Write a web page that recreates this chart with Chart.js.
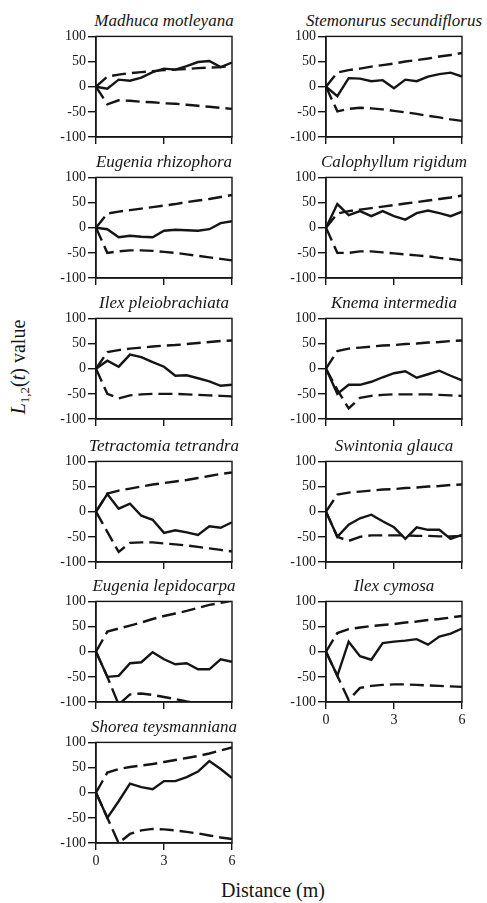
<!DOCTYPE html>
<html>
<head>
<meta charset="utf-8">
<script src="https://cdn.jsdelivr.net/npm/chart.js@4.4.1/dist/chart.umd.min.js"></script>
<style>
  body { margin: 0; background: #fff; }
  #page { position: relative; width: 487px; height: 903px; overflow: hidden;
          font-family: "Liberation Serif", "Times New Roman", serif; color: #151515; }
  .panel { position: absolute; }
  .title { position: absolute; width: 240px; text-align: center; font-style: italic;
           font-size: 17px; line-height: 20px; white-space: nowrap; }
  #ylabel { position: absolute; left: -52px; top: 355px; width: 140px; height: 24px;
            line-height: 24px; text-align: center; font-size: 20px; white-space: nowrap;
            transform: rotate(-90deg); }
  #ylabel sub { font-size: 13px; vertical-align: -4px; line-height: 0; }
  #xlabel { position: absolute; left: 193px; top: 878px; width: 160px; text-align: center;
            font-size: 20px; line-height: 24px; white-space: nowrap; }
</style>
</head>
<body>
<div id="page">
  <div id="ylabel"><i>L</i><sub>1,2</sub>(<i>t</i>) value</div>
  <div id="xlabel">Distance (m)</div>
</div>
<script>
// distances (m) at which L1,2(t) was evaluated
const distance = [0, 0.5, 1, 1.5, 2, 2.5, 3, 3.5, 4, 4.5, 5, 5.5, 6];
const xTicks = [0, 3, 6];
const yTicks = [-100, -50, 0, 50, 100];

// observed value, upper and lower envelope for each species
const madhucaObs = [0, -4, 14, 12, 18, 29, 36, 34, 41, 49, 51, 39, 48];
const madhucaUp  = [0, 20, 24, 27, 29, 31, 33, 34, 35, 37, 38, 39, 41];
const madhucaLo  = [0, -35, -27, -28, -30, -31, -33, -34, -36, -38, -40, -42, -44];

const stemonurusObs = [0, -19, 17, 16, 11, 13, -3, 14, 11, 20, 25, 28, 20];
const stemonurusUp  = [0, 28, 33, 36, 40, 43, 46, 50, 53, 56, 60, 63, 67];
const stemonurusLo  = [0, -49, -44, -42, -43, -45, -48, -51, -54, -58, -61, -65, -68];

const rhizophoraObs = [0, -3, -19, -16, -18, -19, -6, -4, -5, -6, -3, 9, 13];
const rhizophoraUp  = [0, 28, 32, 35, 38, 41, 44, 47, 51, 54, 57, 61, 65];
const rhizophoraLo  = [0, -50, -47, -45, -45, -46, -48, -50, -53, -56, -59, -62, -65];

const calophyllumObs = [0, 47, 25, 33, 23, 33, 23, 16, 29, 34, 29, 23, 32];
const calophyllumUp  = [0, 28, 33, 36, 39, 42, 45, 48, 51, 54, 57, 60, 64];
const calophyllumLo  = [0, -50, -50, -47, -47, -49, -51, -53, -55, -57, -60, -62, -65];

const pleiobrachiataObs = [0, 16, 4, 28, 23, 13, 4, -14, -13, -19, -25, -34, -32];
const pleiobrachiataUp  = [0, 33, 37, 40, 42, 44, 46, 47, 49, 51, 53, 55, 56];
const pleiobrachiataLo  = [0, -50, -59, -53, -51, -50, -50, -50, -51, -52, -53, -54, -55];

const knemaObs = [0, -50, -32, -32, -26, -17, -9, -5, -18, -11, -4, -14, -23];
const knemaUp  = [0, 35, 40, 42, 44, 46, 47, 49, 50, 52, 53, 55, 56];
const knemaLo  = [0, -42, -79, -58, -54, -52, -51, -51, -51, -51, -52, -53, -54];

const tetractomiaObs = [0, 35, 6, 16, -8, -16, -42, -37, -41, -46, -29, -32, -21];
const tetractomiaUp  = [0, 36, 42, 46, 50, 54, 57, 60, 63, 67, 71, 75, 78];
const tetractomiaLo  = [0, -40, -80, -62, -61, -61, -63, -65, -67, -70, -73, -76, -79];

const swintoniaObs = [0, -50, -26, -13, -6, -19, -31, -54, -31, -36, -36, -54, -46];
const swintoniaUp  = [0, 34, 38, 40, 42, 44, 45, 47, 48, 50, 51, 53, 54];
const swintoniaLo  = [0, -50, -58, -50, -47, -47, -47, -47, -48, -48, -49, -49, -48];

const lepidocarpaObs = [0, -50, -48, -23, -21, -1, -15, -25, -23, -35, -35, -15, -20];
const lepidocarpaUp  = [0, 40, 46, 52, 58, 65, 71, 76, 81, 87, 93, 97, 101];
const lepidocarpaLo  = [0, -50, -105, -85, -83, -86, -90, -94, -99, -103, -107, -111, -115];

const cymosaObs = [0, -48, 20, -9, -16, 17, 20, 22, 25, 14, 30, 36, 46];
const cymosaUp  = [0, 37, 45, 48, 51, 53, 55, 58, 60, 63, 65, 68, 71];
const cymosaLo  = [0, -48, -96, -72, -68, -66, -65, -65, -66, -67, -68, -69, -70];

const shoreaObs = [0, -50, -17, 18, 11, 7, 23, 23, 31, 42, 63, 47, 29];
const shoreaUp  = [0, 40, 47, 51, 54, 57, 61, 65, 69, 73, 78, 84, 90];
const shoreaLo  = [0, -50, -100, -82, -75, -72, -73, -75, -78, -81, -85, -89, -92];

const panels = [
  { name: "Madhuca motleyana",       obs: madhucaObs,        up: madhucaUp,        lo: madhucaLo,        col: 0, row: 0 },
  { name: "Stemonurus secundiflorus", obs: stemonurusObs,    up: stemonurusUp,     lo: stemonurusLo,     col: 1, row: 0 },
  { name: "Eugenia rhizophora",      obs: rhizophoraObs,     up: rhizophoraUp,     lo: rhizophoraLo,     col: 0, row: 1 },
  { name: "Calophyllum rigidum",     obs: calophyllumObs,    up: calophyllumUp,    lo: calophyllumLo,    col: 1, row: 1 },
  { name: "Ilex pleiobrachiata",     obs: pleiobrachiataObs, up: pleiobrachiataUp, lo: pleiobrachiataLo, col: 0, row: 2 },
  { name: "Knema intermedia",        obs: knemaObs,          up: knemaUp,          lo: knemaLo,          col: 1, row: 2 },
  { name: "Tetractomia tetrandra",   obs: tetractomiaObs,    up: tetractomiaUp,    lo: tetractomiaLo,    col: 0, row: 3 },
  { name: "Swintonia glauca",        obs: swintoniaObs,      up: swintoniaUp,      lo: swintoniaLo,      col: 1, row: 3 },
  { name: "Eugenia lepidocarpa",     obs: lepidocarpaObs,    up: lepidocarpaUp,    lo: lepidocarpaLo,    col: 0, row: 4 },
  { name: "Ilex cymosa",             obs: cymosaObs,         up: cymosaUp,         lo: cymosaLo,         col: 1, row: 4, xLabels: true },
  { name: "Shorea teysmanniana",     obs: shoreaObs,         up: shoreaUp,         lo: shoreaLo,         col: 0, row: 5, xLabels: true },
];

// layout of the grid of panels
const colLeft = [96, 326];
const rowTop = [36, 177, 318, 461, 601, 742];
const plotW = 136, plotH = 101;
const axisW = 60, padTop = 10, padRight = 10, axisH = 26;
const ink = "#151515";
const serif = "'Liberation Serif', 'Times New Roman', Times, serif";

// draw the closed box around each plot area
const frame = {
  id: "frame",
  afterDraw(chart) {
    const a = chart.chartArea, c = chart.ctx;
    c.save();
    c.strokeStyle = ink;
    c.lineWidth = 1.4;
    c.strokeRect(a.left, a.top, a.right - a.left, a.bottom - a.top);
    c.restore();
  }
};

const page = document.getElementById("page");

function pts(vals) {
  return vals.map((v, i) => ({ x: distance[i], y: v }));
}

panels.forEach(p => {
  const left = colLeft[p.col], top = rowTop[p.row];

  let t = document.createElement("div");
  t.className = "title";
  t.style.left = (left + plotW / 2 - 120) + "px";
  t.style.top = (top - 25) + "px";
  t.textContent = p.name;
  page.appendChild(t);

  let box = document.createElement("div");
  box.className = "panel";
  box.style.left = (left - axisW) + "px";
  box.style.top = (top - padTop) + "px";
  let cv = document.createElement("canvas");
  cv.width = axisW + plotW + padRight;
  cv.height = padTop + plotH + axisH;
  box.appendChild(cv);
  page.appendChild(box);

  const line = { borderColor: ink, borderWidth: 2.4, pointRadius: 0, tension: 0, fill: false };

  new Chart(cv.getContext("2d"), {
    type: "line",
    data: {
      datasets: [
        Object.assign({ label: "Observed", data: pts(p.obs) }, line),
        Object.assign({ label: "Upper envelope", data: pts(p.up), borderDash: [14, 6] }, line),
        Object.assign({ label: "Lower envelope", data: pts(p.lo), borderDash: [14, 6] }, line),
      ],
    },
    options: {
      responsive: false,
      animation: false,
      layout: { padding: { top: padTop, right: padRight, left: 0, bottom: 0 } },
      plugins: { legend: { display: false }, tooltip: { enabled: false } },
      scales: {
        x: {
          type: "linear", min: 0, max: 6,
          afterBuildTicks: s => { s.ticks = xTicks.map(v => ({ value: v })); },
          afterFit: s => { s.height = axisH; },
          grid: { drawOnChartArea: false, drawTicks: true, tickLength: 7, color: ink, lineWidth: 1.4 },
          border: { display: true, color: ink, width: 1.4 },
          ticks: { display: !!p.xLabels, padding: 3, maxRotation: 0, color: ink,
                   font: { family: serif, size: 14 } },
        },
        y: {
          type: "linear", min: -100, max: 100,
          afterBuildTicks: s => { s.ticks = yTicks.map(v => ({ value: v })); },
          afterFit: s => { s.width = axisW; },
          grid: { drawOnChartArea: false, drawTicks: true, tickLength: 8, color: ink, lineWidth: 1.4 },
          border: { display: true, color: ink, width: 1.4 },
          ticks: { padding: 2, color: ink, font: { family: serif, size: 14 } },
        },
      },
    },
    plugins: [frame],
  });
});
</script>
</body>
</html>
